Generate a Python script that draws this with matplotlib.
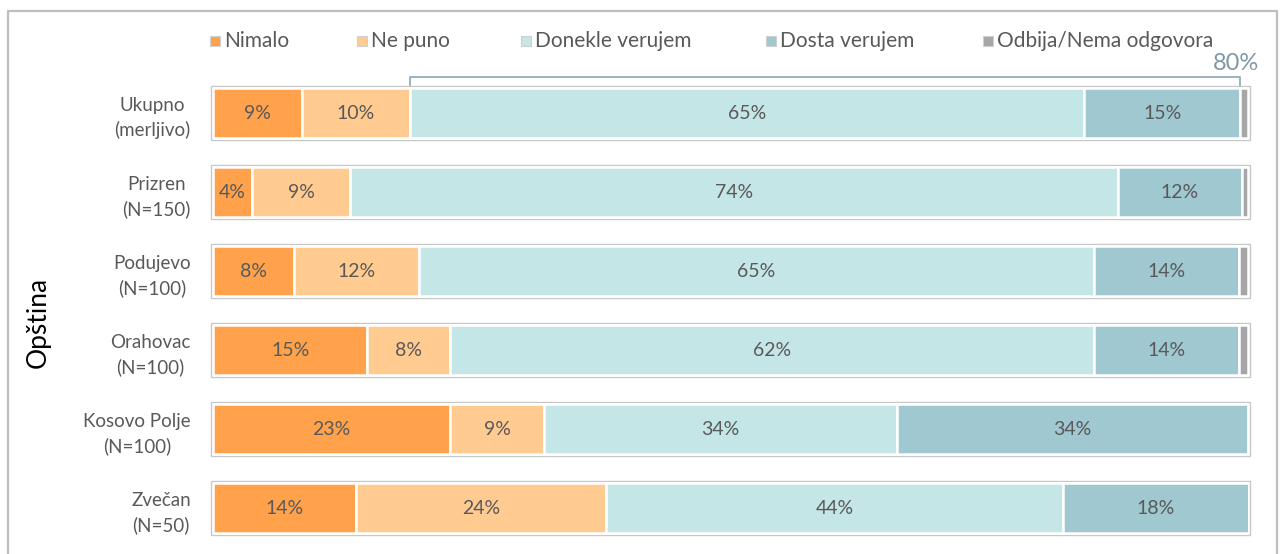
import matplotlib
matplotlib.use("Agg")
import matplotlib.pyplot as plt
from matplotlib.patches import Rectangle
from matplotlib.lines import Line2D
import numpy as np

plt.rcParams['font.family'] = ['Lato', 'DejaVu Sans']

rows = ["Ukupno\n(merljivo)", "Prizren\n(N=150)", "Podujevo\n(N=100)",
        "Orahovac\n(N=100)", "Kosovo Polje\n(N=100)", "Zvečan\n(N=50)"]
series = ["Nimalo", "Ne puno", "Donekle verujem", "Dosta verujem", "Odbija/Nema odgovora"]
nimalo  = [8.6, 3.8, 7.8, 14.9, 22.9, 13.8]
ne_puno = [10.4, 9.4, 12.1, 8.0, 9.1, 24.2]
donekle = [65.2, 74.2, 65.2, 62.2, 34.1, 44.1]
dosta   = [15.0, 12.0, 14.0, 14.0, 33.9, 18.0]
odbija  = [0.8, 0.6, 0.9, 0.9, 0.0, 0.0]
bracket_label = "80%"
colors = ["#FFA24B", "#FFCB90", "#C5E6E6", "#9FC8D1", "#A6A6A6"]

W, H = 1281, 554
fig = plt.figure(figsize=(W/100, H/100), dpi=100)
ax = fig.add_axes([213/W, 1-547.5/H, (1248-213)/W, (547.5-73.5)/H])

data = [nimalo, ne_puno, donekle, dosta, odbija]
y = np.arange(len(rows))
left = np.zeros(len(rows))
txtc = "#595959"
for vals, col in zip(data, colors):
    vals = np.array(vals)
    ax.barh(y, vals, left=left, height=0.645, color=col, edgecolor="white", linewidth=1.8, zorder=2)
    for yi, (l, v) in enumerate(zip(left, vals)):
        if v >= 2:
            ax.text(l + v/2, yi, f"{int(round(v))}%", ha="center", va="center",
                    fontsize=14, color=txtc, zorder=3)
    left += vals

for yi in y:
    ax.add_patch(Rectangle((-0.22, yi-0.34), 100.44, 0.68, fill=False,
                           edgecolor="#C8C8C8", linewidth=1.0, zorder=1, clip_on=False))

# bracket over first row
bl = nimalo[0] + ne_puno[0]
br = bl + donekle[0] + dosta[0]
by = -0.46
ax.plot([bl, bl, br, br], [-0.35, by, by, -0.35], color="#92AEB8", lw=1.3,
        clip_on=False, zorder=3)
ax.text(br - 0.4, by - 0.03, bracket_label, ha="center", va="bottom", fontsize=17,
        color="#7F98A5", clip_on=False)

ax.set_xlim(0, 100)
ax.set_ylim(len(rows)-0.5, -0.5)
ax.set_xticks([])
ax.set_yticks(y)
ax.set_yticklabels(rows, fontsize=13.5, color="#595959")
for t in ax.get_yticklabels():
    t.set_multialignment("center")
    t.set_linespacing(1.45)
ax.tick_params(axis="y", length=0, pad=16)
for s in ax.spines.values():
    s.set_visible(False)

fig.text(38/W, 1-322/H, "Opština", rotation=90, ha="center", va="center",
         fontsize=19, color="black")

# legend
leg_x = [210, 357, 521, 766, 983]
leg_y = 41
for x, lab, col in zip(leg_x, series, colors):
    fig.patches.append(Rectangle((x/W, 1-(leg_y+5)/H), 10/W, 10/H, transform=fig.transFigure,
                                 facecolor=col, edgecolor="#D0D0D0", linewidth=0.8))
    fig.text((x+14)/W, 1-leg_y/H, lab, ha="left", va="center", fontsize=15, color=txtc)

# frame
fig.add_artist(Line2D([8/W, 8/W, 1277/W, 1277/W], [0, 1-11/H, 1-11/H, 0],
                      transform=fig.transFigure, color="#BEBEBE", lw=1.6))

fig.savefig("out.png", dpi=100)
